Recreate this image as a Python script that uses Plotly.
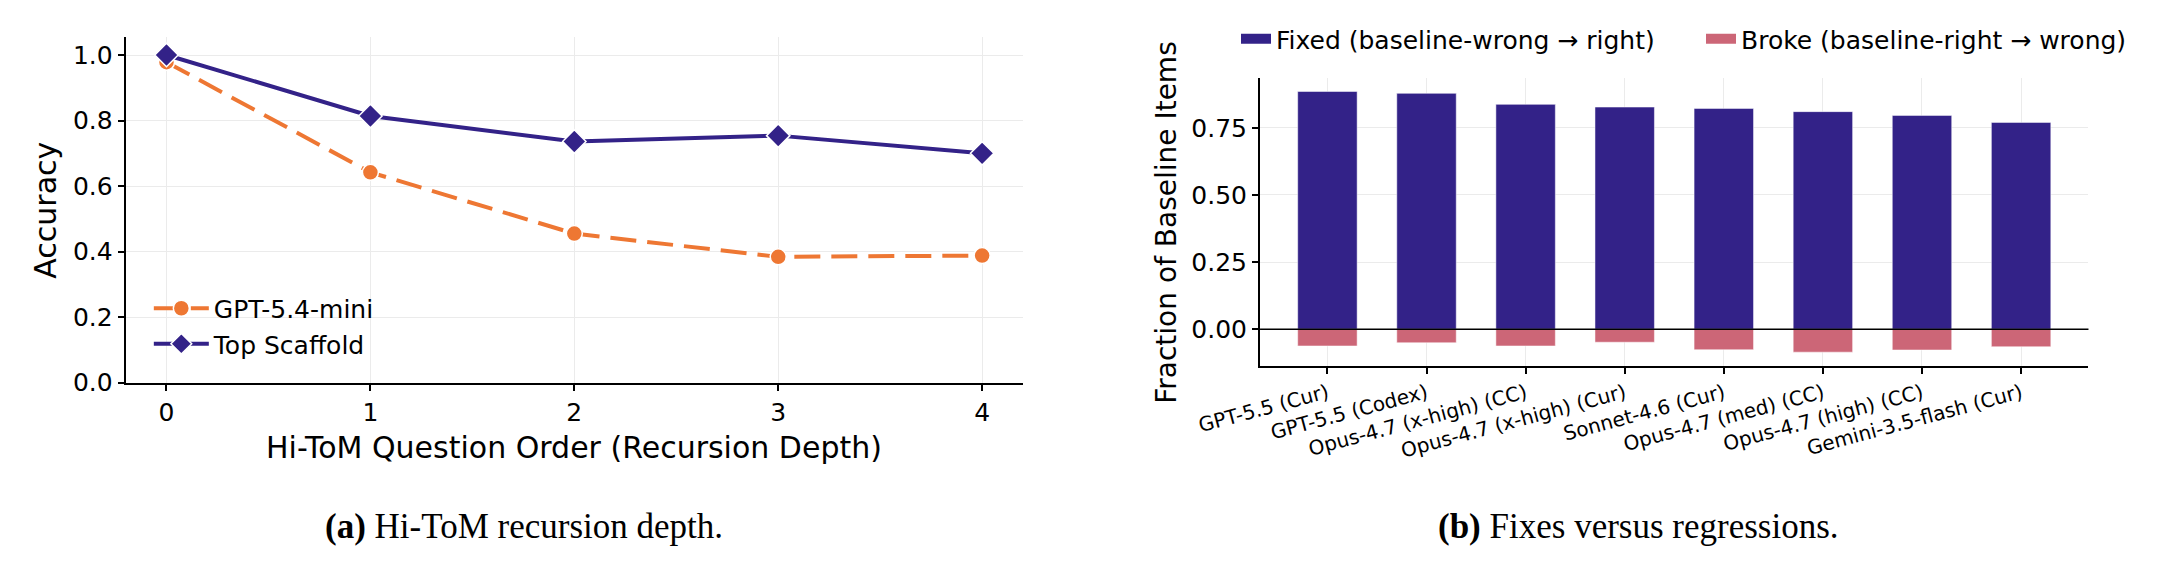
import plotly.graph_objects as go

# (a) Hi-ToM recursion depth
depth = [0, 1, 2, 3, 4]
gpt_mini = [0.978, 0.642, 0.455, 0.384, 0.388]
top_scaffold = [1.0, 0.814, 0.736, 0.754, 0.700]

# (b) fixes versus regressions
models = ['GPT-5.5 (Cur)', 'GPT-5.5 (Codex)', 'Opus-4.7 (x-high) (CC)',
          'Opus-4.7 (x-high) (Cur)', 'Sonnet-4.6 (Cur)', 'Opus-4.7 (med) (CC)',
          'Opus-4.7 (high) (CC)', 'Gemini-3.5-flash (Cur)']
fixed = [0.885, 0.878, 0.837, 0.827, 0.822, 0.810, 0.796, 0.770]
broke = [-0.062, -0.050, -0.062, -0.048, -0.076, -0.085, -0.077, -0.065]
frac_ticks = [0.0, 0.25, 0.50, 0.75]

INDIGO = '#332288'
ORANGE = '#EE7733'
ROSE = '#CC6677'
GRID = '#ebebeb'
W, H = 2166, 575

fig = go.Figure()

fig.add_trace(go.Scatter(
    x=depth, y=gpt_mini, name='GPT-5.4-mini', mode='lines+markers',
    line=dict(color=ORANGE, width=4, dash='26px,11px'),
    marker=dict(symbol='circle', size=16, color=ORANGE, line=dict(color='white', width=1.5)),
    xaxis='x', yaxis='y', legend='legend'))
fig.add_trace(go.Scatter(
    x=depth, y=top_scaffold, name='Top Scaffold', mode='lines+markers',
    line=dict(color=INDIGO, width=4),
    marker=dict(symbol='diamond', size=18, color=INDIGO, line=dict(color='white', width=1.5)),
    xaxis='x', yaxis='y', legend='legend'))

bar_names = ['Fixed (baseline-wrong \u2192 right)', 'Broke (baseline-right \u2192 wrong)']
for name, vals, col in [(bar_names[0], fixed, INDIGO), (bar_names[1], broke, ROSE)]:
    fig.add_trace(go.Bar(
        x=models, y=vals, name=name, width=0.6, showlegend=False,
        marker=dict(color=col, line=dict(color='rgba(255,255,255,0.5)', width=1)),
        xaxis='x2', yaxis='y2'))
    # legend patch (wide rectangle like the matplotlib handle)
    fig.add_trace(go.Scatter(
        x=[None], y=[None], name=name, mode='lines',
        line=dict(color=col, width=16),
        xaxis='x2', yaxis='y2', legend='legend2'))

tickfont = dict(family='DejaVu Sans', size=25, color='black')
axis_common = dict(showline=True, linecolor='black', linewidth=2, mirror=False,
                   ticks='outside', ticklen=6, tickwidth=2, tickcolor='black',
                   showgrid=True, gridcolor=GRID, gridwidth=1, zeroline=False,
                   automargin=False, tickfont=tickfont)

fig.update_layout(
    template='none',
    width=W, height=H,
    margin=dict(l=0, r=0, t=0, b=0, pad=0),
    paper_bgcolor='white', plot_bgcolor='white',
    font=dict(family='DejaVu Sans', color='black'),
    barmode='relative',
    xaxis=dict(domain=[126.7 / W, 1031 / W], range=[-0.2, 4.2],
               tickvals=depth, anchor='y', **axis_common),
    yaxis=dict(domain=[(H - 382.7) / H, (H - 37) / H], range=[0, 1.055],
               tickvals=[0, 0.2, 0.4, 0.6, 0.8, 1.0], tickformat='.1f',
               anchor='x', **axis_common),
    xaxis2=dict(domain=[1270 / W, 2105 / W], range=[-0.68, 7.68],
                anchor='y2', tickangle=-15, **{**axis_common,
                'tickfont': dict(family='DejaVu Sans', size=20, color='black')}),
    yaxis2=dict(domain=[(H - 366) / H, (H - 78.3) / H], range=[-0.1365, 0.934],
                tickvals=frac_ticks, tickformat='.2f', anchor='x2', **axis_common),
    legend=dict(x=150 / W, y=(H - 326) / H, xanchor='left', yanchor='middle',
                orientation='v', bgcolor='rgba(0,0,0,0)', tracegroupgap=0,
                itemwidth=55,
                font=dict(family='DejaVu Sans', size=25, color='black')),
    legend2=dict(x=1246 / W, y=(H - 39) / H, xanchor='left', yanchor='middle',
                 orientation='h', bgcolor='rgba(0,0,0,0)',
                 entrywidth=420, entrywidthmode='pixels',
                 font=dict(family='DejaVu Sans', size=25, color='black')),
    showlegend=True,
)

# zero reference line on the bar panel
fig.add_shape(type='line', xref='x2 domain', yref='y2', x0=0, x1=1, y0=0, y1=0,
              line=dict(color='black', width=1.5), layer='above')

# axis titles
fig.add_annotation(text='Accuracy', textangle=-90, x=45 / W, y=(H - 210) / H,
                   xref='paper', yref='paper', showarrow=False,
                   xanchor='center', yanchor='middle',
                   font=dict(family='DejaVu Sans', size=30, color='black'))
fig.add_annotation(text='Hi-ToM Question Order (Recursion Depth)', x=579 / W, y=(H - 447) / H,
                   xref='paper', yref='paper', showarrow=False,
                   xanchor='center', yanchor='middle',
                   font=dict(family='DejaVu Sans', size=30, color='black'))
fig.add_annotation(text='Fraction of Baseline Items', textangle=-90, x=1176 / W, y=(H - 222) / H,
                   xref='paper', yref='paper', showarrow=False,
                   xanchor='center', yanchor='middle',
                   font=dict(family='DejaVu Sans', size=28, color='black'))

# sub-figure captions
fig.add_annotation(text='<b>(a)</b> Hi-ToM recursion depth.', x=528 / W, y=(H - 526) / H,
                   xref='paper', yref='paper', showarrow=False,
                   xanchor='center', yanchor='middle',
                   font=dict(family='Liberation Serif', size=35, color='black'))
fig.add_annotation(text='<b>(b)</b> Fixes versus regressions.', x=1651 / W, y=(H - 526) / H,
                   xref='paper', yref='paper', showarrow=False,
                   xanchor='center', yanchor='middle',
                   font=dict(family='Liberation Serif', size=35, color='black'))

fig.write_html('out.html', config={'displayModeBar': False},
               post_script="document.body.style.margin='0px';")
